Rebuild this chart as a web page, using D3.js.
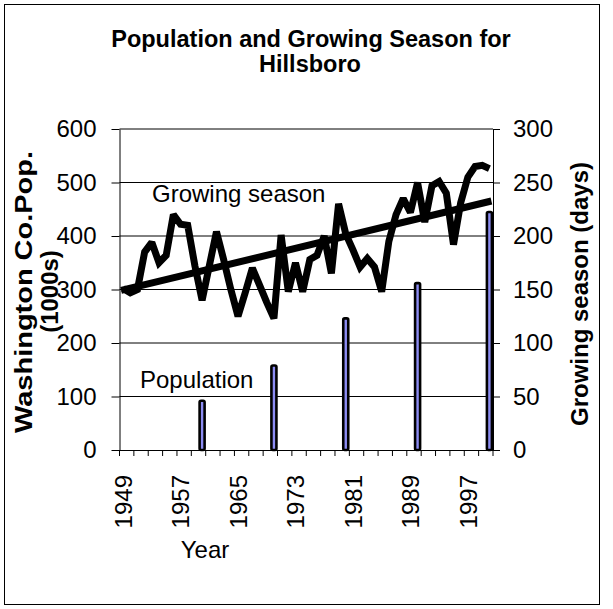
<!DOCTYPE html>
<html>
<head>
<meta charset="utf-8">
<script src="https://cdn.jsdelivr.net/npm/d3@7"></script>
<style>
  html, body { margin: 0; padding: 0; background: #fff; }
  svg { display: block; font-family: "Liberation Sans", Arial, sans-serif; }
</style>
</head>
<body>
<svg id="chart" width="613" height="609"></svg>
<script>
// Years on the category axis
const years = [1949,1950,1951,1952,1953,1954,1955,1956,1957,1958,
               1959,1960,1961,1962,1963,1964,1965,1966,1967,1968,
               1969,1970,1971,1972,1973,1974,1975,1976,1977,1978,
               1979,1980,1981,1982,1983,1984,1985,1986,1987,1988,
               1989,1990,1991,1992,1993,1994,1995,1996,1997,1998,
               1999,2000];

// Growing season length in Hillsboro (days), one value per year
const seasonDays = [151,147,150,185,194,175,182,220,211,210,
                    172,140,172,204,178,150,125,147,170,154,
                    138,123,201,148,175,148,178,182,200,165,
                    230,202,187,171,179,171,148,195,220,235,
                    222,250,213,247,251,240,192,231,255,265,
                    266,263];

// Washington County census population (thousands)
const censusYears = [1960, 1970, 1980, 1990, 2000];
const population  = [92, 158, 246, 312, 445];

// Axis ticks and labels
const popTicks    = [0, 100, 200, 300, 400, 500, 600];
const daysTicks   = [0, 50, 100, 150, 200, 250, 300];
const yearLabels  = [1949, 1957, 1965, 1973, 1981, 1989, 1997];

const svg = d3.select("#chart");
const FONT = 24;

// outer frame
svg.append("rect")
  .attr("x", 4.5).attr("y", 4.5).attr("width", 595).attr("height", 600)
  .attr("fill", "#fff").attr("stroke", "#000").attr("stroke-width", 1);

const plotL = 119.5, plotR = 493, plotT = 129, plotB = 450;

const x = d3.scaleBand().domain(years).range([plotL, plotR]).paddingInner(0).paddingOuter(0);
const bw = x.bandwidth();
const cx = yr => x(yr) + bw / 2;
const yPop = d3.scaleLinear().domain([0, 600]).range([plotB, plotT]);
const yDays = d3.scaleLinear().domain([0, 300]).range([plotB, plotT]);

// horizontal gridlines
svg.append("g")
  .selectAll("line")
  .data(popTicks.filter(t => t > 0))
  .join("line")
  .attr("x1", plotL).attr("x2", plotR)
  .attr("y1", d => yPop(d)).attr("y2", d => yPop(d))
  .attr("stroke", "#000").attr("stroke-width", 1);

// population columns
svg.append("g")
  .selectAll("rect")
  .data(censusYears.map((yr, i) => ({ yr, v: population[i] })))
  .join("rect")
  .attr("x", d => cx(d.yr) - 2.5)
  .attr("width", 5)
  .attr("y", d => yPop(d.v))
  .attr("height", d => yPop(0) - yPop(d.v))
  .attr("rx", 1.5)
  .attr("fill", "#8c8cf2")
  .attr("stroke", "#000")
  .attr("stroke-width", 2.6);

// growing season line
const pts = years.map((yr, i) => ({ yr, v: seasonDays[i] }));
svg.append("path")
  .datum(pts)
  .attr("fill", "none")
  .attr("stroke", "#000")
  .attr("stroke-width", 7)
  .attr("stroke-linejoin", "miter")
  .attr("stroke-miterlimit", 2)
  .attr("d", d3.line().x(d => cx(d.yr)).y(d => yDays(d.v)));

// linear least-squares trend of the growing season
const n = seasonDays.length;
const mi = d3.mean(d3.range(n));
const mv = d3.mean(seasonDays);
const slope = d3.sum(seasonDays, (v, i) => (i - mi) * (v - mv)) /
              d3.sum(d3.range(n), i => (i - mi) * (i - mi));
const icpt = mv - slope * mi;
svg.append("line")
  .attr("x1", cx(years[0]) - 2).attr("y1", yDays(icpt - slope * 2 / bw))
  .attr("x2", cx(years[n - 1]) + 2).attr("y2", yDays(icpt + slope * (n - 1 + 2 / bw)))
  .attr("stroke", "#000").attr("stroke-width", 7);

// left axis
const gL = svg.append("g").attr("transform", `translate(${plotL},0)`)
  .call(d3.axisLeft(yPop).tickValues(popTicks).tickSize(8).tickPadding(15).tickSizeOuter(0));
gL.selectAll("text").attr("font-size", FONT).attr("font-family", "Liberation Sans").attr("fill", "#000");
gL.selectAll("line, path").attr("stroke", "#000");

// right axis
const gR = svg.append("g").attr("transform", `translate(${plotR},0)`)
  .call(d3.axisRight(yDays).tickValues(daysTicks).tickSize(7).tickPadding(13).tickSizeOuter(0));
gR.selectAll("text").attr("font-size", FONT).attr("font-family", "Liberation Sans").attr("fill", "#000");
gR.selectAll("line, path").attr("stroke", "#000");

// bottom axis: labels every eighth year
const gB = svg.append("g").attr("transform", `translate(0,${plotB})`)
  .call(d3.axisBottom(x).tickValues(yearLabels).tickSize(0).tickSizeOuter(0));
gB.select(".domain").attr("stroke", "#000").attr("d", `M${plotL},0.5H${plotR}`);
gB.selectAll("text")
  .attr("font-size", FONT).attr("font-family", "Liberation Sans").attr("fill", "#000")
  .attr("transform", "rotate(-90)")
  .attr("text-anchor", "end")
  .attr("x", -25).attr("y", 0).attr("dy", "0.36em");

// minor tick marks on band edges, every second year
const edgeYears = years.filter((yr, i) => i % 2 === 0);
svg.append("g").selectAll("line")
  .data(edgeYears.map(yr => x(yr)).concat([plotR]))
  .join("line")
  .attr("x1", d => d).attr("x2", d => d)
  .attr("y1", plotB).attr("y2", plotB + 6)
  .attr("stroke", "#000");

// titles
const title = svg.append("text")
  .attr("text-anchor", "middle").attr("font-weight", "bold").attr("font-size", 23.5);
title.append("tspan").attr("x", 311).attr("y", 46.7).text("Population and Growing Season for");
title.append("tspan").attr("x", 310).attr("y", 71.7).text("Hillsboro");

svg.append("text")
  .attr("transform", "translate(32,292) rotate(-90)")
  .attr("text-anchor", "middle").attr("font-weight", "bold").attr("font-size", FONT)
  .attr("textLength", 282).attr("lengthAdjust", "spacingAndGlyphs")
  .text("Washington Co.Pop.");
svg.append("text")
  .attr("transform", "translate(58,291.5) rotate(-90)")
  .attr("text-anchor", "middle").attr("font-weight", "bold").attr("font-size", FONT)
  .text("(1000s)");

svg.append("text")
  .attr("transform", "translate(588,294) rotate(-90)")
  .attr("text-anchor", "middle").attr("font-weight", "bold").attr("font-size", FONT)
  .text("Growing season (days)");

svg.append("text")
  .attr("x", 205).attr("y", 558).attr("text-anchor", "middle").attr("font-size", FONT)
  .text("Year");

// series labels inside the plot
svg.append("text").attr("x", 152).attr("y", 202).attr("font-size", FONT).text("Growing season");
svg.append("text").attr("x", 140).attr("y", 388).attr("font-size", FONT).text("Population");
</script>
</body>
</html>
